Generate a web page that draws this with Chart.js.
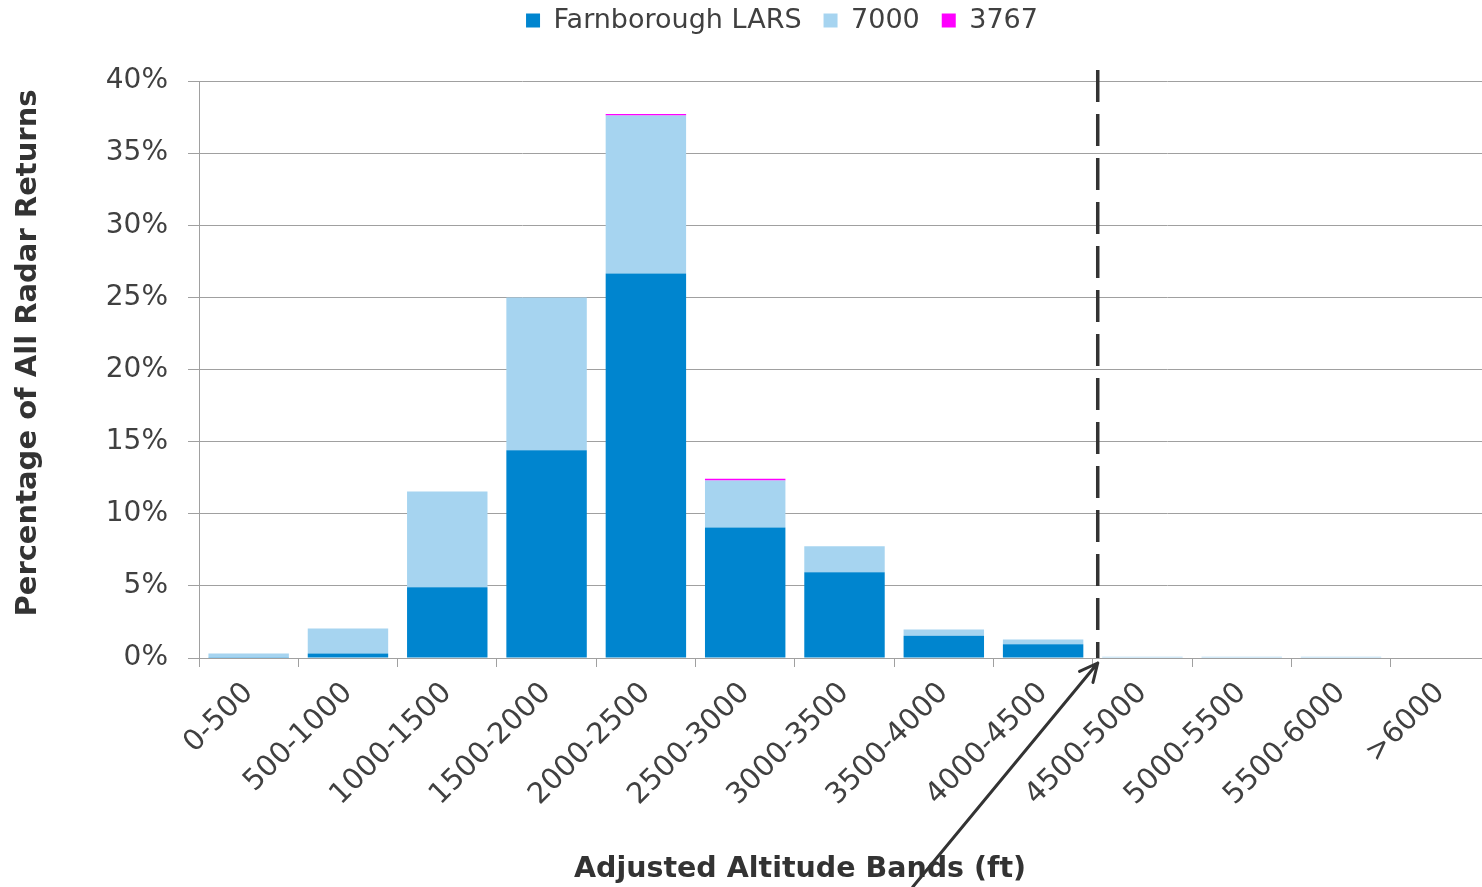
<!DOCTYPE html>
<html>
<head>
<meta charset="utf-8">
<script src="https://cdn.jsdelivr.net/npm/chart.js@4"></script>
<style>
  html, body { margin: 0; padding: 0; background: #fff; overflow: hidden; }
  #wrap { width: 1490px; height: 887px; }
</style>
</head>
<body>
<div id="wrap"><canvas id="chart"></canvas></div>
<script>
const bands = ['0-500', '500-1000', '1000-1500', '1500-2000', '2000-2500', '2500-3000', '3000-3500',
  '3500-4000', '4000-4500', '4500-5000', '5000-5500', '5500-6000', '>6000'];
const farnborough = [0.02, 0.32, 4.9, 14.4, 26.65, 9.05, 5.95, 1.54, 0.95, 0, 0, 0, 0];
const squawk7000 = [0.3, 1.73, 6.65, 10.6, 10.95, 3.25, 1.8, 0.44, 0.34, 0.08, 0.08, 0.08, 0];
const squawk3767 = [0, 0, 0, 0, 0.12, 0.12, 0, 0, 0, 0, 0, 0, 0];
const yTicks = [0, 5, 10, 15, 20, 25, 30, 35, 40];
const cutoffBand = 8.55; // dashed line just past the 4000-4500 band
const xTitle = 'Adjusted Altitude Bands (ft)';
const yTitle = 'Percentage of All Radar Returns';

const FONT = "'DejaVu Sans', Verdana, sans-serif";
const TEXT = '#404040';
const GRID = '#a0a0a0';

// dashed cut-off line, arrow and axis titles
const overlay = {
  id: 'overlay',
  afterLayout(chart) {
    chart.legend.left += 74;
    chart.legend.top -= 37;
  },
  afterDraw(chart) {
    const { ctx, scales: { x, y }, chartArea } = chart;
    const lx = x.getPixelForValue(cutoffBand);
    ctx.save();
    ctx.strokeStyle = '#333';
    ctx.lineWidth = 3.5;
    ctx.setLineDash([32, 12]);
    ctx.beginPath();
    ctx.moveTo(lx, y.getPixelForValue(40) - 11);
    ctx.lineTo(lx, y.getPixelForValue(0));
    ctx.stroke();

    // arrow pointing at the foot of the line
    const tipX = lx, tipY = y.getPixelForValue(0) + 5;
    const tailX = tipX - 185, tailY = chart.height;
    const ang = Math.atan2(tipY - tailY, tipX - tailX);
    ctx.setLineDash([]);
    ctx.lineWidth = 3;
    ctx.lineCap = 'round';
    ctx.lineJoin = 'round';
    ctx.beginPath();
    ctx.moveTo(tailX, tailY);
    ctx.lineTo(tipX, tipY);
    ctx.moveTo(tipX - 20 * Math.cos(ang - 0.45), tipY - 20 * Math.sin(ang - 0.45));
    ctx.lineTo(tipX, tipY);
    ctx.lineTo(tipX - 20 * Math.cos(ang + 0.45), tipY - 20 * Math.sin(ang + 0.45));
    ctx.stroke();

    ctx.fillStyle = '#333';
    ctx.font = 'bold 28.5px ' + FONT;
    ctx.textAlign = 'center';
    ctx.textBaseline = 'middle';
    ctx.fillText(xTitle, chartArea.left + 601, 870);
    ctx.font = 'bold 29px ' + FONT;
    ctx.translate(28, chartArea.top + 272);
    ctx.rotate(-Math.PI / 2);
    ctx.fillText(yTitle, 0, 0);
    ctx.restore();
  }
};

new Chart(document.getElementById('chart'), {
  type: 'bar',
  data: {
    labels: bands,
    datasets: [
      { label: 'Farnborough LARS', data: farnborough, backgroundColor: '#0085cf' },
      { label: '7000', data: squawk7000, backgroundColor: '#a6d4f0' },
      { label: '3767', data: squawk3767, backgroundColor: '#ff00ff' }
    ]
  },
  options: {
    responsive: true,
    maintainAspectRatio: false,
    animation: false,
    layout: { padding: { top: 22, right: 0, bottom: 0, left: 0 } },
    datasets: { bar: { barPercentage: 0.81, categoryPercentage: 1, borderWidth: 0 } },
    plugins: {
      legend: {
        position: 'top',
        labels: { color: TEXT, font: { family: FONT, size: 27 }, boxWidth: 14, boxHeight: 14, padding: 22 }
      },
      tooltip: { enabled: false }
    },
    scales: {
      x: {
        stacked: true,
        afterFit: s => { s.height = 229; },
        grid: { display: true, drawOnChartArea: false, color: GRID, tickLength: 9, offset: true },
        border: { color: GRID },
        ticks: { color: TEXT, font: { family: FONT, size: 29 }, maxRotation: 45, minRotation: 45, padding: 9, autoSkip: false }
      },
      y: {
        stacked: true,
        min: 0,
        max: 40,
        afterFit: s => { s.width = 199; },
        afterBuildTicks: s => { s.ticks = yTicks.map(v => ({ value: v })); },
        grid: { color: GRID, tickLength: 11 },
        border: { color: GRID },
        ticks: { color: TEXT, font: { family: FONT, size: 28 }, padding: 20, callback: v => v + '%' }
      }
    }
  },
  plugins: [overlay]
});
</script>
</body>
</html>
